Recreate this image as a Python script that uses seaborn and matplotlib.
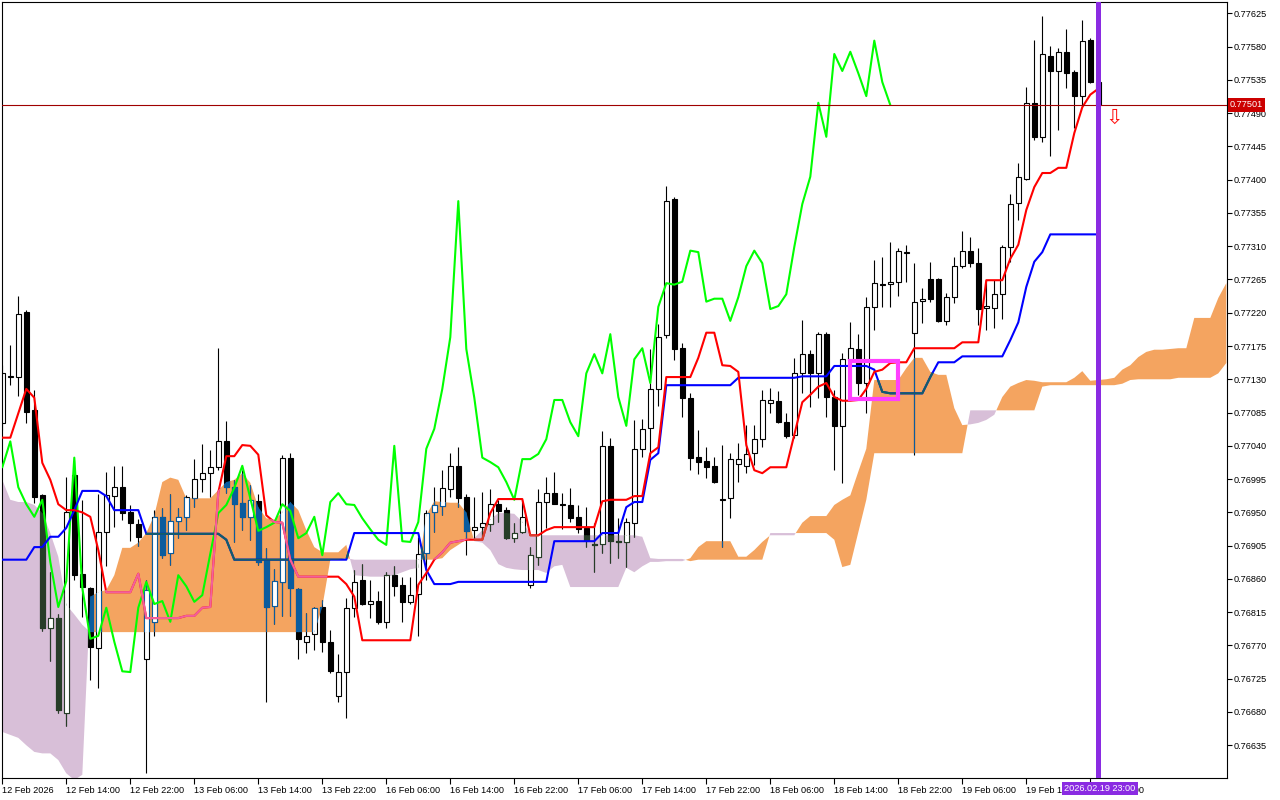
import numpy as np
import pandas as pd
import matplotlib
matplotlib.use("Agg")
import matplotlib.pyplot as plt
import matplotlib.transforms as mtransforms
from matplotlib.path import Path
from matplotlib.patches import Rectangle
import seaborn as sns

sns.set_theme(style="white")
plt.rcParams["font.family"] = ["Liberation Sans", "DejaVu Sans"]

# ---------------- data (H1 candles, 12 Feb 06:00 .. 19 Feb 23:00) ----------------
open_ = [0.77071, 0.77133, 0.77133, 0.77221, 0.77088, 0.76973, 0.76793, 0.76807, 0.76679, 0.77000,
         0.76867, 0.76848, 0.76766, 0.76923, 0.76972, 0.76984, 0.76950, 0.76934, 0.76752, 0.76802,
         0.76944, 0.76895, 0.76938, 0.76944, 0.76969, 0.76995, 0.77003, 0.77011, 0.77046, 0.76984,
         0.76963, 0.76944, 0.76965, 0.76886, 0.76823, 0.76856, 0.77024, 0.76846, 0.76775, 0.76786,
         0.76822, 0.76775, 0.76702, 0.76734, 0.76821, 0.76858, 0.76826, 0.76830, 0.76802, 0.76865,
         0.76852, 0.76829, 0.76840, 0.76895, 0.76950, 0.76959, 0.76982, 0.77013, 0.76971, 0.76926,
         0.76930, 0.76934, 0.76961, 0.76953, 0.76915, 0.76923, 0.76852, 0.76890, 0.76964, 0.76976,
         0.76961, 0.76960, 0.76944, 0.76929, 0.76907, 0.76907, 0.77040, 0.76911, 0.76910, 0.76936,
         0.77036, 0.77064, 0.77117, 0.77190, 0.77374, 0.77172, 0.77105, 0.77025, 0.77019, 0.77013,
         0.76968, 0.76969, 0.77015, 0.77013, 0.77030, 0.77049, 0.77098, 0.77101, 0.77072, 0.77055,
         0.77138, 0.77164, 0.77138, 0.77191, 0.77106, 0.77067, 0.77156, 0.77171, 0.77125, 0.77228,
         0.77259, 0.77259, 0.77262, 0.77301, 0.77193, 0.77236, 0.77266, 0.77266, 0.77209, 0.77241,
         0.77283, 0.77304, 0.77287, 0.77226, 0.77226, 0.77245, 0.77309, 0.77368, 0.77401, 0.77504,
         0.77458, 0.77567, 0.77547, 0.77573, 0.77546, 0.77513, 0.77589, 0.77532]
high = [0.77149, 0.77176, 0.77243, 0.77224, 0.77115, 0.76975, 0.76869, 0.76812, 0.76998, 0.77021,
        0.76967, 0.76849, 0.76975, 0.77005, 0.77013, 0.77013, 0.76960, 0.76941, 0.76858, 0.76953,
        0.76956, 0.76975, 0.76956, 0.76973, 0.77022, 0.77042, 0.77034, 0.77172, 0.77074, 0.76994,
        0.77007, 0.76987, 0.76975, 0.76902, 0.76873, 0.77028, 0.77030, 0.76848, 0.76814, 0.76822,
        0.76831, 0.76791, 0.76758, 0.76834, 0.76872, 0.76880, 0.76858, 0.76844, 0.76869, 0.76877,
        0.76863, 0.76863, 0.76917, 0.76953, 0.76984, 0.77007, 0.77030, 0.77038, 0.76975, 0.76971,
        0.76977, 0.76982, 0.76967, 0.76957, 0.76936, 0.76967, 0.76903, 0.76982, 0.76998, 0.77005,
        0.76976, 0.76983, 0.76960, 0.76957, 0.76936, 0.77060, 0.77051, 0.76942, 0.76942, 0.77075,
        0.77076, 0.77171, 0.77205, 0.77391, 0.77376, 0.77179, 0.77111, 0.77061, 0.77038, 0.77025,
        0.77041, 0.77030, 0.77044, 0.77068, 0.77068, 0.77115, 0.77118, 0.77114, 0.77084, 0.77159,
        0.77210, 0.77170, 0.77194, 0.77194, 0.77115, 0.77166, 0.77207, 0.77191, 0.77241, 0.77291,
        0.77295, 0.77316, 0.77308, 0.77312, 0.77287, 0.77253, 0.77289, 0.77267, 0.77247, 0.77295,
        0.77330, 0.77322, 0.77308, 0.77264, 0.77264, 0.77312, 0.77381, 0.77422, 0.77525, 0.77589,
        0.77621, 0.77581, 0.77578, 0.77604, 0.77548, 0.77616, 0.77592, 0.77535]
low = [0.77061, 0.77122, 0.77107, 0.77071, 0.76963, 0.76789, 0.76749, 0.76679, 0.76661, 0.76858,
       0.76808, 0.76723, 0.76712, 0.76877, 0.76930, 0.76940, 0.76911, 0.76904, 0.76597, 0.76783,
       0.76888, 0.76879, 0.76915, 0.76926, 0.76957, 0.76977, 0.76971, 0.77007, 0.76976, 0.76910,
       0.76926, 0.76913, 0.76879, 0.76693, 0.76799, 0.76810, 0.76810, 0.76752, 0.76760, 0.76764,
       0.76761, 0.76733, 0.76693, 0.76672, 0.76808, 0.76825, 0.76807, 0.76799, 0.76793, 0.76837,
       0.76802, 0.76826, 0.76783, 0.76858, 0.76923, 0.76946, 0.76971, 0.76957, 0.76892, 0.76915,
       0.76915, 0.76925, 0.76937, 0.76914, 0.76910, 0.76922, 0.76848, 0.76879, 0.76929, 0.76961,
       0.76927, 0.76937, 0.76922, 0.76903, 0.76869, 0.76895, 0.76882, 0.76888, 0.76876, 0.76917,
       0.77025, 0.77025, 0.77094, 0.77186, 0.77156, 0.77079, 0.77007, 0.77002, 0.76996, 0.76990,
       0.76903, 0.76942, 0.76991, 0.77003, 0.77014, 0.77038, 0.77084, 0.77071, 0.77051, 0.77051,
       0.77111, 0.77092, 0.77105, 0.77079, 0.77007, 0.76990, 0.77138, 0.77109, 0.77084, 0.77197,
       0.77228, 0.77228, 0.77243, 0.77262, 0.77028, 0.77206, 0.77235, 0.77207, 0.77203, 0.77233,
       0.77280, 0.77282, 0.77203, 0.77197, 0.77199, 0.77211, 0.77289, 0.77345, 0.77400, 0.77454,
       0.77451, 0.77432, 0.77467, 0.77524, 0.77470, 0.77498, 0.77531, 0.77495]
close = [0.77138, 0.77134, 0.77218, 0.77086, 0.76971, 0.76793, 0.76807, 0.76683, 0.76950, 0.76865,
         0.76849, 0.76768, 0.76923, 0.76973, 0.76984, 0.76949, 0.76936, 0.76917, 0.76845, 0.76944,
         0.76892, 0.76938, 0.76944, 0.76971, 0.76995, 0.77003, 0.77011, 0.77046, 0.76984, 0.76961,
         0.76944, 0.76967, 0.76883, 0.76822, 0.76857, 0.77024, 0.76848, 0.76779, 0.76783, 0.76821,
         0.76775, 0.76735, 0.76734, 0.76821, 0.76856, 0.76826, 0.76830, 0.76802, 0.76865, 0.76850,
         0.76829, 0.76838, 0.76894, 0.76949, 0.76960, 0.76983, 0.77013, 0.76969, 0.76925, 0.76930,
         0.76936, 0.76961, 0.76952, 0.76915, 0.76922, 0.76944, 0.76892, 0.76964, 0.76976, 0.76961,
         0.76960, 0.76942, 0.76927, 0.76913, 0.76906, 0.77040, 0.76911, 0.76910, 0.76937, 0.77036,
         0.77063, 0.77117, 0.77187, 0.77371, 0.77171, 0.77105, 0.77024, 0.77018, 0.77011, 0.76991,
         0.76967, 0.77022, 0.77022, 0.77029, 0.77049, 0.77102, 0.77102, 0.77072, 0.77053, 0.77138,
         0.77164, 0.77138, 0.77191, 0.77106, 0.77067, 0.77157, 0.77172, 0.77125, 0.77228, 0.77260,
         0.77258, 0.77262, 0.77304, 0.77302, 0.77235, 0.77239, 0.77239, 0.77209, 0.77241, 0.77283,
         0.77304, 0.77287, 0.77225, 0.77229, 0.77245, 0.77309, 0.77367, 0.77404, 0.77504, 0.77458,
         0.77570, 0.77547, 0.77573, 0.77544, 0.77513, 0.77588, 0.77532, 0.77501]

tenkan = [0.77051, 0.77051, 0.77084, 0.77117, 0.77105, 0.77017, 0.76994, 0.76961, 0.76953, 0.76953,
          0.76950, 0.76944, 0.76899, 0.76842, 0.76842, 0.76842, 0.76842, 0.76867, 0.76807, 0.76807,
          0.76807, 0.76807, 0.76807, 0.76810, 0.76810, 0.76821, 0.76822, 0.76977, 0.77026, 0.77026,
          0.77041, 0.77040, 0.77028, 0.76946, 0.76937, 0.76936, 0.76886, 0.76863, 0.76863, 0.76863,
          0.76863, 0.76863, 0.76863, 0.76853, 0.76836, 0.76777, 0.76777, 0.76777, 0.76777, 0.76777,
          0.76777, 0.76777, 0.76852, 0.76868, 0.76886, 0.76896, 0.76909, 0.76911, 0.76913, 0.76913,
          0.76913, 0.76949, 0.76968, 0.76968, 0.76968, 0.76968, 0.76919, 0.76919, 0.76926, 0.76930,
          0.76930, 0.76930, 0.76930, 0.76930, 0.76930, 0.76965, 0.76967, 0.76967, 0.76967, 0.76972,
          0.76972, 0.77030, 0.77038, 0.77133, 0.77133, 0.77133, 0.77133, 0.77159, 0.77193, 0.77193,
          0.77149, 0.77148, 0.77140, 0.77041, 0.77007, 0.77003, 0.77011, 0.77011, 0.77011, 0.77055,
          0.77099, 0.77109, 0.77120, 0.77125, 0.77106, 0.77101, 0.77101, 0.77102, 0.77117, 0.77140,
          0.77143, 0.77152, 0.77153, 0.77153, 0.77172, 0.77172, 0.77172, 0.77172, 0.77172, 0.77172,
          0.77180, 0.77180, 0.77180, 0.77264, 0.77264, 0.77264, 0.77293, 0.77312, 0.77359, 0.77390,
          0.77409, 0.77409, 0.77416, 0.77416, 0.77463, 0.77498, 0.77515, 0.77523]
kijun = [0.76886, 0.76886, 0.76886, 0.76886, 0.76903, 0.76903, 0.76917, 0.76917, 0.76929, 0.76953,
         0.76979, 0.76979, 0.76979, 0.76972, 0.76953, 0.76953, 0.76953, 0.76953, 0.76921, 0.76921,
         0.76921, 0.76921, 0.76921, 0.76921, 0.76921, 0.76921, 0.76921, 0.76921, 0.76913, 0.76886,
         0.76886, 0.76886, 0.76886, 0.76886, 0.76886, 0.76886, 0.76886, 0.76886, 0.76886, 0.76886,
         0.76886, 0.76886, 0.76886, 0.76886, 0.76922, 0.76922, 0.76922, 0.76922, 0.76922, 0.76922,
         0.76922, 0.76922, 0.76922, 0.76872, 0.76853, 0.76853, 0.76853, 0.76856, 0.76856, 0.76856,
         0.76856, 0.76856, 0.76856, 0.76856, 0.76856, 0.76856, 0.76856, 0.76856, 0.76856, 0.76911,
         0.76911, 0.76911, 0.76911, 0.76911, 0.76911, 0.76922, 0.76922, 0.76922, 0.76957, 0.76964,
         0.76964, 0.77021, 0.77030, 0.77122, 0.77122, 0.77122, 0.77122, 0.77122, 0.77122, 0.77122,
         0.77122, 0.77122, 0.77132, 0.77132, 0.77132, 0.77132, 0.77132, 0.77132, 0.77132, 0.77132,
         0.77134, 0.77134, 0.77134, 0.77134, 0.77148, 0.77148, 0.77148, 0.77148, 0.77148, 0.77143,
         0.77113, 0.77111, 0.77111, 0.77111, 0.77111, 0.77111, 0.77133, 0.77153, 0.77153, 0.77153,
         0.77161, 0.77161, 0.77161, 0.77161, 0.77161, 0.77161, 0.77183, 0.77207, 0.77255, 0.77289,
         0.77302, 0.77326, 0.77326, 0.77326, 0.77326, 0.77326, 0.77326, 0.77326]

# Senkou spans as displayed (already shifted 26 bars forward), bars 0..153
span_a = [0.76653, 0.76649, 0.76645, 0.76635, 0.76626, 0.76624, 0.76624, 0.76615, 0.76597, 0.76588,
          0.76595, 0.76836, 0.76842, 0.76845, 0.76865, 0.76902, 0.76902, 0.76909, 0.76922, 0.76946,
          0.76991, 0.76997, 0.76994, 0.76969, 0.76969, 0.76969, 0.76969, 0.76980, 0.76991, 0.76994,
          0.77003, 0.76990, 0.76957, 0.76942, 0.76940, 0.76950, 0.76964, 0.76953, 0.76926, 0.76903,
          0.76896, 0.76896, 0.76896, 0.76906, 0.76865, 0.76864, 0.76863, 0.76863, 0.76863, 0.76865,
          0.76869, 0.76873, 0.76875, 0.76946, 0.76965, 0.76964, 0.76963, 0.76963, 0.76950, 0.76911,
          0.76909, 0.76899, 0.76880, 0.76875, 0.76873, 0.76872, 0.76872, 0.76872, 0.76868, 0.76877,
          0.76879, 0.76849, 0.76849, 0.76849, 0.76849, 0.76849, 0.76849, 0.76849, 0.76875, 0.76869,
          0.76877, 0.76883, 0.76883, 0.76884, 0.76884, 0.76884, 0.76888, 0.76903, 0.76911, 0.76911,
          0.76911, 0.76911, 0.76890, 0.76890, 0.76899, 0.76910, 0.76919, 0.76919, 0.76919, 0.76919,
          0.76936, 0.76945, 0.76945, 0.76945, 0.76960, 0.76967, 0.76973, 0.77005, 0.77036, 0.77129,
          0.77129, 0.77129, 0.77129, 0.77145, 0.77159, 0.77159, 0.77140, 0.77136, 0.77136, 0.77091,
          0.77068, 0.77069, 0.77071, 0.77075, 0.77082, 0.77106, 0.77120, 0.77125, 0.77129, 0.77128,
          0.77126, 0.77126, 0.77126, 0.77126, 0.77132, 0.77141, 0.77128, 0.77129, 0.77130, 0.77132,
          0.77143, 0.77149, 0.77160, 0.77167, 0.77170, 0.77170, 0.77171, 0.77172, 0.77172, 0.77213,
          0.77213, 0.77213, 0.77240, 0.77260]
span_b = [0.76994, 0.76967, 0.76964, 0.76964, 0.76960, 0.76949, 0.76922, 0.76890, 0.76825, 0.76812,
          0.76798, 0.76788, 0.76788, 0.76788, 0.76788, 0.76788, 0.76788, 0.76788, 0.76788, 0.76788,
          0.76788, 0.76788, 0.76788, 0.76788, 0.76788, 0.76788, 0.76788, 0.76788, 0.76788, 0.76788,
          0.76788, 0.76788, 0.76788, 0.76788, 0.76788, 0.76788, 0.76788, 0.76788, 0.76788, 0.76788,
          0.76822, 0.76886, 0.76886, 0.76888, 0.76886, 0.76886, 0.76886, 0.76886, 0.76886, 0.76886,
          0.76886, 0.76886, 0.76886, 0.76886, 0.76886, 0.76888, 0.76899, 0.76906, 0.76913, 0.76915,
          0.76926, 0.76940, 0.76949, 0.76949, 0.76948, 0.76937, 0.76921, 0.76919, 0.76919, 0.76919,
          0.76919, 0.76919, 0.76919, 0.76919, 0.76919, 0.76919, 0.76919, 0.76919, 0.76919, 0.76919,
          0.76917, 0.76888, 0.76887, 0.76887, 0.76887, 0.76887, 0.76884, 0.76886, 0.76886, 0.76886,
          0.76886, 0.76886, 0.76886, 0.76886, 0.76886, 0.76886, 0.76922, 0.76922, 0.76922, 0.76922,
          0.76922, 0.76922, 0.76922, 0.76922, 0.76913, 0.76876, 0.76879, 0.76923, 0.76967, 0.77030,
          0.77030, 0.77030, 0.77030, 0.77030, 0.77030, 0.77030, 0.77030, 0.77030, 0.77030, 0.77030,
          0.77030, 0.77088, 0.77088, 0.77088, 0.77088, 0.77088, 0.77088, 0.77088, 0.77088, 0.77088,
          0.77120, 0.77122, 0.77122, 0.77122, 0.77122, 0.77122, 0.77122, 0.77122, 0.77122, 0.77122,
          0.77124, 0.77129, 0.77130, 0.77130, 0.77130, 0.77130, 0.77130, 0.77132, 0.77132, 0.77132,
          0.77132, 0.77132, 0.77138, 0.77152]

chikou_shift = 26
current_price = 0.77501
price_ticks = [0.77625, 0.77580, 0.77535, 0.77490, 0.77445, 0.77400, 0.77355, 0.77310, 0.77265,
               0.77220, 0.77175, 0.77130, 0.77085, 0.77040, 0.76995, 0.76950, 0.76905, 0.76860,
               0.76815, 0.76770, 0.76725, 0.76680, 0.76635]
time_labels = ["12 Feb 2026", "12 Feb 14:00", "12 Feb 22:00", "13 Feb 06:00", "13 Feb 14:00",
               "13 Feb 22:00", "16 Feb 06:00", "16 Feb 14:00", "16 Feb 22:00", "17 Feb 06:00",
               "17 Feb 14:00", "17 Feb 22:00", "18 Feb 06:00", "18 Feb 14:00", "18 Feb 22:00",
               "19 Feb 06:00", "19 Feb 14:00", "19 Feb 22:00"]
time_label_step = 8
cursor_label = "2026.02.19 23:00"

# ---------------- figure ----------------
W, H = 1280, 800
fig = plt.figure(figsize=(W / 100, H / 100), dpi=100)
fig.patch.set_facecolor("white")
ax = fig.add_axes([2 / W, 22 / H, 1225 / W, 776 / H])
ax.set_facecolor("white")

n = len(close)
idx = np.arange(n)
o = np.array(open_); h = np.array(high); l = np.array(low); c = np.array(close)
sa = np.array(span_a); sb = np.array(span_b)
cidx = np.arange(len(sa))

ORANGE = "#F4A460"
THISTLE = "#D8BFD8"

orange = ax.fill_between(cidx, sa, sb, where=sa >= sb, interpolate=True,
                         color=ORANGE, linewidth=0, zorder=1)
purple = ax.fill_between(cidx, sa, sb, where=sa < sb, interpolate=True,
                         color=THISTLE, linewidth=0, zorder=1)
orange_clip = Path.make_compound_path(*orange.get_paths())
purple_clip = Path.make_compound_path(*purple.get_paths())


def draw_candles(wick_col, bear_col, edge_col, z, clip=None):
    bull = c >= o
    faces = np.where(bull, "white", bear_col)
    bottoms = np.minimum(o, c)
    heights = np.abs(c - o)
    wk = ax.vlines(idx, l, h, colors=wick_col, linewidth=0.8, zorder=z)
    bars = ax.bar(idx, heights, bottom=bottoms, width=0.62, color=faces,
                  edgecolor=edge_col, linewidth=0.8, zorder=z + 0.1)
    if clip is not None:
        wk.set_clip_path(clip, ax.transData)
        for p in bars:
            p.set_clip_path(clip, ax.transData)


draw_candles("black", "black", "black", 2)
draw_candles("#0b5c9e", "#0b5c9e", "#0b5c9e", 2.3, orange_clip)
draw_candles("#273d28", "#273d28", "#273d28", 2.3, purple_clip)

# Ichimoku lines
lines_df = pd.DataFrame({"bar": idx, "tenkan": tenkan, "kijun": kijun, "close": close})
chikou_df = pd.DataFrame({"bar": idx[chikou_shift:] - chikou_shift, "chikou": c[chikou_shift:]})

sns.lineplot(data=chikou_df, x="bar", y="chikou", ax=ax, color="#00FF00", linewidth=1.5,
             estimator=None, sort=False, zorder=4)
sns.lineplot(data=lines_df, x="bar", y="kijun", ax=ax, color="#0000FF", linewidth=1.5,
             estimator=None, sort=False, zorder=4)
sns.lineplot(data=lines_df, x="bar", y="kijun", ax=ax, color="#135f66", linewidth=1.5,
             estimator=None, sort=False, zorder=4.05)
ax.lines[-1].set_clip_path(orange_clip, ax.transData)
sns.lineplot(data=lines_df, x="bar", y="tenkan", ax=ax, color="#FF0000", linewidth=1.5,
             estimator=None, sort=False, zorder=4.1)
sns.lineplot(data=lines_df, x="bar", y="tenkan", ax=ax, color="#f2609c", linewidth=1.5,
             estimator=None, sort=False, zorder=4.15)
ax.lines[-1].set_clip_path(orange_clip, ax.transData)
sns.lineplot(data=lines_df, x="bar", y="tenkan", ax=ax, color="#d8402f", linewidth=1.5,
             estimator=None, sort=False, zorder=4.15)
ax.lines[-1].set_clip_path(purple_clip, ax.transData)

# current price line
ax.axhline(current_price, color="#a00000", linewidth=0.8, zorder=5)

# highlight rectangle
ax.add_patch(Rectangle((105.96, 0.77103), 6.0, 0.00052, fill=False,
                       edgecolor="#ff40ff", linewidth=3, zorder=6))

# vertical cursor line at current bar
ax.axvline(n - 1, color="#8a2be2", linewidth=3.6, zorder=7)

# sell arrow
ax.text(139.0, 0.77483, "\u21e9", color="#ff1010", fontsize=15, ha="center", va="center",
        family=["DejaVu Sans"], zorder=8)

# ---------------- axes ----------------
xmin = (2 - 2.3) / 8
xmax = (1227 - 2.3) / 8
ax.set_xlim(xmin, xmax)
ax.set_ylim(0.765907, 0.776403)

for s in ax.spines.values():
    s.set_color("black")
    s.set_linewidth(0.8)
    s.set_visible(True)

ax.yaxis.tick_right()
ax.set_yticks(price_ticks)
ax.set_yticklabels([f"{v:.5f}" for v in price_ticks])
ax.tick_params(axis="y", which="major", direction="out", length=3.5, width=0.8,
               color="black", labelsize=6.6, pad=1.5, right=True, left=False,
               labelcolor="black")
for t in ax.get_yticklabels():
    t.set_horizontalalignment("left")

xt = [i * time_label_step for i in range(len(time_labels))]
ax.set_xticks(xt)
ax.set_xticklabels(time_labels)
ax.tick_params(axis="x", which="major", direction="out", length=4, width=0.8,
               color="black", labelsize=6.6, pad=1.5, bottom=True, labelcolor="black")
for t in ax.get_xticklabels():
    t.set_horizontalalignment("left")

ax.set_xlabel("")
ax.set_ylabel("")
ax.grid(False)

# price label on the right axis
trans_y = mtransforms.blended_transform_factory(ax.transAxes, ax.transData)
ax.text(1.0 + 3 / 1225, current_price, f"{current_price:.5f}", transform=trans_y,
        ha="left", va="center", fontsize=6.6, color="white", zorder=10, clip_on=False,
        bbox=dict(facecolor="#cc0000", edgecolor="none", pad=1.6))

# time label at the bottom
trans_x = mtransforms.blended_transform_factory(ax.transData, ax.transAxes)
ax.text(n - 1 + 0.2, -0.0135, cursor_label, transform=trans_x, ha="center", va="center",
        fontsize=6.6, color="white", zorder=10, clip_on=False,
        bbox=dict(facecolor="#8a2be2", edgecolor="none", pad=1.6))

fig.savefig("out.png", dpi=100, facecolor="white")
